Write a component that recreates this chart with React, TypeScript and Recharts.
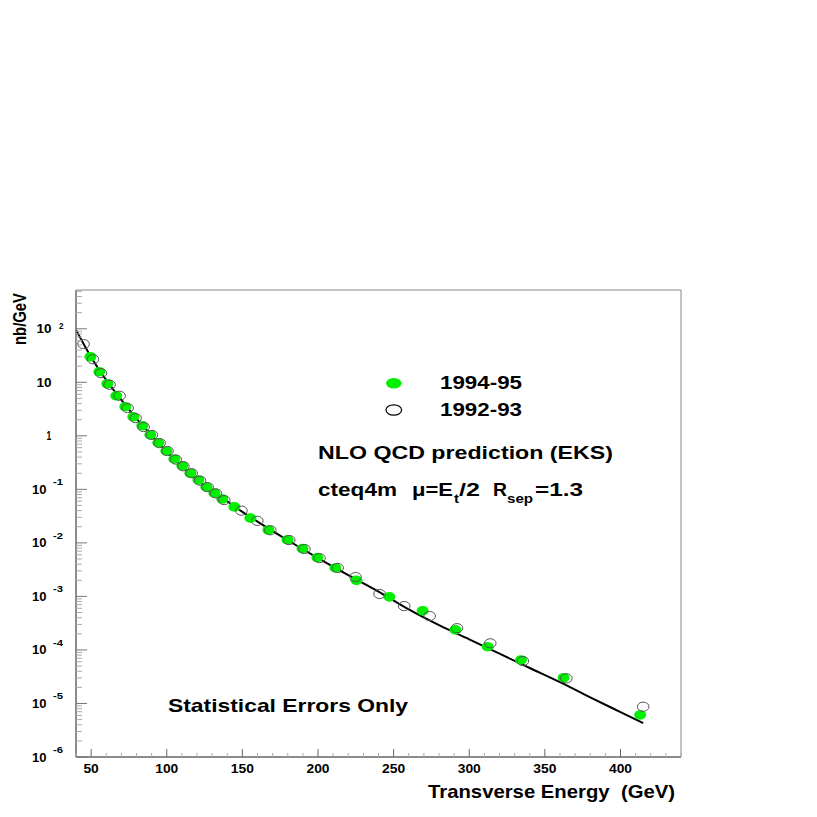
import React from 'react';
import { ComposedChart, XAxis, YAxis, Line, Scatter, ReferenceArea } from 'recharts';

// 1994-95 data (green filled)
const et9495 = [49.5, 55.4, 60.7, 66.6, 72.6, 77.9, 83.8, 89.1, 94.4, 99.7, 105, 110.3, 115.6, 120.9, 126.2, 131.5, 136.7, 144.7, 155.3, 167.2, 179.8, 189.7, 199.6, 211.5, 225.4, 247.2, 269.2, 290.8, 312.1, 334.2, 362.4, 413];
const xs9495 = [30, 15.7, 9.4, 5.6, 3.5, 2.26, 1.54, 1.04, 0.74, 0.52, 0.37, 0.275, 0.2, 0.15, 0.11, 0.085, 0.066, 0.047, 0.029, 0.0174, 0.0114, 0.0078, 0.0053, 0.0034, 0.002, 0.00098, 0.00054, 0.000237, 0.000115, 6.5e-5, 3.03e-5, 6.1e-6];

// 1992-93 data (open circles)
const et9293 = [45, 51.2, 56.5, 62.2, 68.8, 74.1, 79.4, 84.7, 90.2, 95.3, 100.5, 106, 111, 116.5, 122, 127, 132.5, 138, 149.4, 159.9, 168.5, 181, 191, 201, 213, 224.8, 240.7, 257, 273.8, 291.9, 313.9, 335.5, 364.2, 415];
const xs9293 = [51.8, 27, 14.8, 9.0, 5.6, 3.3, 2.14, 1.46, 1.04, 0.73, 0.52, 0.36, 0.27, 0.2, 0.145, 0.11, 0.084, 0.063, 0.04, 0.0258, 0.0172, 0.0113, 0.0077, 0.0052, 0.0034, 0.0023, 0.00111, 0.00066, 0.00043, 0.000255, 0.000133, 6.2e-5, 2.95e-5, 8.7e-6];

// NLO QCD prediction (EKS)
const etTheory = [40, 50, 60, 70, 80, 90, 100, 110, 120, 130, 140, 150, 160, 180, 200, 220, 240, 260, 280, 300, 320, 340, 360, 380, 400, 415];
const xsTheory = [95, 29.5, 11, 4.7, 2.1, 1.02, 0.51, 0.27, 0.15, 0.093, 0.06, 0.038, 0.025, 0.0112, 0.0052, 0.0025, 0.00123, 0.00057, 0.00029, 0.000158, 8.5e-5, 4.6e-5, 2.5e-5, 1.3e-5, 6.9e-6, 4.3e-6];

const xMajor = [50, 100, 150, 200, 250, 300, 350, 400];
const xTicks = Array.from({ length: 41 }, (_, i) => 40 + i * 10);
const yExponents = [-6, -5, -4, -3, -2, -1, 0, 1, 2];
const yTicks: number[] = [];
yExponents.forEach((e) => {
  for (let k = 1; k <= 9; k++) {
    const v = k * Math.pow(10, e);
    if (v <= 530) yTicks.push(v);
  }
});

const d9495 = et9495.map((e, i) => ({ e, v: xs9495[i] }));
const d9293 = et9293.map((e, i) => ({ e, v: xs9293[i] }));
const dTheory = etTheory.map((e, i) => ({ e, v: xsTheory[i] }));

const FONT = '"Liberation Sans", Arial, Helvetica, sans-serif';

const XTick = (props: any) => {
  const { x, y, payload } = props;
  const v = payload.value;
  const major = v % 50 === 0;
  const label = xMajor.includes(v) ? String(v) : '';
  return (
    <g>
      <line x1={x} x2={x} y1={y} y2={y - (major ? 8 : 4)} stroke={major ? '#666' : '#aaa'} strokeWidth={1} />
      {label && (
        <text x={x} y={y + 15.5} textAnchor="middle" fontFamily={FONT} fontWeight="bold" fontSize={12.5}
          textLength={label.length * 7.7} lengthAdjust="spacingAndGlyphs" fill="#000">
          {label}
        </text>
      )}
    </g>
  );
};

const YTick = (props: any) => {
  const { x, y, payload } = props;
  const v = payload.value;
  const exp = Math.round(Math.log10(v));
  const isMajor = Math.abs(v - Math.pow(10, exp)) < 1e-9 * Math.pow(10, exp) + 1e-15;
  const len = isMajor ? 11 : 6;
  let labelEl = null;
  if (isMajor) {
    const common = { fontFamily: FONT, fontWeight: 'bold' as const, fill: '#000' };
    if (exp < 0) {
      labelEl = (
        <g>
          <text x={x - 44} y={y + 4.5} {...common} fontSize={12.5} textLength={14.5} lengthAdjust="spacingAndGlyphs">10</text>
          <text x={x - 23} y={y - 4} {...common} fontSize={9} textLength={10} lengthAdjust="spacingAndGlyphs">{String(exp)}</text>
        </g>
      );
    } else if (exp === 2) {
      labelEl = (
        <g>
          <text x={x - 39.5} y={y + 4.5} {...common} fontSize={12.5} textLength={15} lengthAdjust="spacingAndGlyphs">10</text>
          <text x={x - 17} y={y} {...common} fontSize={9} textLength={4.5} lengthAdjust="spacingAndGlyphs">2</text>
        </g>
      );
    } else if (exp === 1) {
      labelEl = (
        <text x={x - 39.5} y={y + 4.5} {...common} fontSize={12.5} textLength={15} lengthAdjust="spacingAndGlyphs">10</text>
      );
    } else {
      labelEl = (
        <text x={x - 29.5} y={y + 4.5} {...common} fontSize={12.5} textLength={4.8} lengthAdjust="spacingAndGlyphs">1</text>
      );
    }
  }
  return (
    <g>
      <line x1={x} x2={x + len} y1={y} y2={y} stroke={isMajor ? '#777' : '#aaa'} strokeWidth={1} />
      {labelEl}
    </g>
  );
};

const GreenDot = (props: any) => {
  const { cx, cy } = props;
  if (cx == null || cy == null) return null;
  return <ellipse cx={cx} cy={cy} rx={6} ry={4.8} fill="#00f000" />;
};

const OpenDot = (props: any) => {
  const { cx, cy } = props;
  if (cx == null || cy == null) return null;
  return <ellipse cx={cx} cy={cy} rx={5.8} ry={4.6} fill="none" stroke="#555" strokeWidth={1} />;
};

const txt = { fontFamily: FONT, fontWeight: 'bold' as const, fill: '#000', lengthAdjust: 'spacingAndGlyphs' as const };

export default function App() {
  return (
    <div style={{ position: 'absolute', left: 0, top: 0, width: 817, height: 817, background: '#fff' }}>
      <ComposedChart width={817} height={817} margin={{ top: 290, right: 136, bottom: 0, left: 0 }}>
        <ReferenceArea x1={40} x2={440} y1={1e-6} y2={530} fill="none" stroke="#888" strokeWidth={1} ifOverflow="visible" />
        <XAxis type="number" dataKey="e" domain={[40, 440]} ticks={xTicks} interval={0} allowDataOverflow
          height={60} tickSize={0} tickMargin={0} tickLine={false} tick={<XTick />} axisLine={{ stroke: '#555', strokeWidth: 1 }} />
        <YAxis type="number" dataKey="v" scale="log" domain={[1e-6, 530]} ticks={yTicks} interval={0} allowDataOverflow
          width={76} tickSize={0} tickMargin={0} tickLine={false} tick={<YTick />} axisLine={{ stroke: '#555', strokeWidth: 1 }} />
        <Scatter name="1994-95" data={d9495} dataKey="v" shape={<GreenDot />} isAnimationActive={false} />
        <Scatter name="1992-93" data={d9293} dataKey="v" shape={<OpenDot />} isAnimationActive={false} />
        <Line name="NLO QCD" data={dTheory} dataKey="v" type="monotone" stroke="#000" strokeWidth={2} dot={false} activeDot={false} isAnimationActive={false} />
      </ComposedChart>
      <svg width={817} height={817} style={{ position: 'absolute', left: 0, top: 0, pointerEvents: 'none' }}>
        <text x={25.5} y={345} transform="rotate(-90 25.5 345)" {...txt} fontSize={19} textLength={52}>nb/GeV</text>
        <text x={428} y={798} {...txt} fontSize={19} textLength={247} style={{ whiteSpace: 'pre' }} xmlSpace="preserve">Transverse Energy  (GeV)</text>
        <ellipse cx={393.8} cy={383.3} rx={7.8} ry={5.2} fill="#00f000" />
        <ellipse cx={393.8} cy={410} rx={7.8} ry={5.2} fill="none" stroke="#000" strokeWidth={1.2} />
        <text x={440} y={389} {...txt} fontSize={17.5} textLength={82}>1994-95</text>
        <text x={440} y={416} {...txt} fontSize={17.5} textLength={82}>1992-93</text>
        <text x={318} y={459} {...txt} fontSize={18.5} textLength={295}>NLO QCD prediction (EKS)</text>
        <text x={318} y={496} {...txt} fontSize={18.5} textLength={79}>cteq4m</text>
        <text x={412} y={496} {...txt} fontSize={18.5} textLength={41}>μ=E</text>
        <text x={454} y={503} {...txt} fontSize={12} textLength={5}>t</text>
        <text x={459} y={496} {...txt} fontSize={18.5} textLength={21}>/2</text>
        <text x={493} y={496} {...txt} fontSize={18.5} textLength={14}>R</text>
        <text x={507} y={503} {...txt} fontSize={12} textLength={26}>sep</text>
        <text x={535} y={496} {...txt} fontSize={18.5} textLength={48}>=1.3</text>
        <text x={168} y={712} {...txt} fontSize={18.5} textLength={240}>Statistical Errors Only</text>
      </svg>
    </div>
  );
}
